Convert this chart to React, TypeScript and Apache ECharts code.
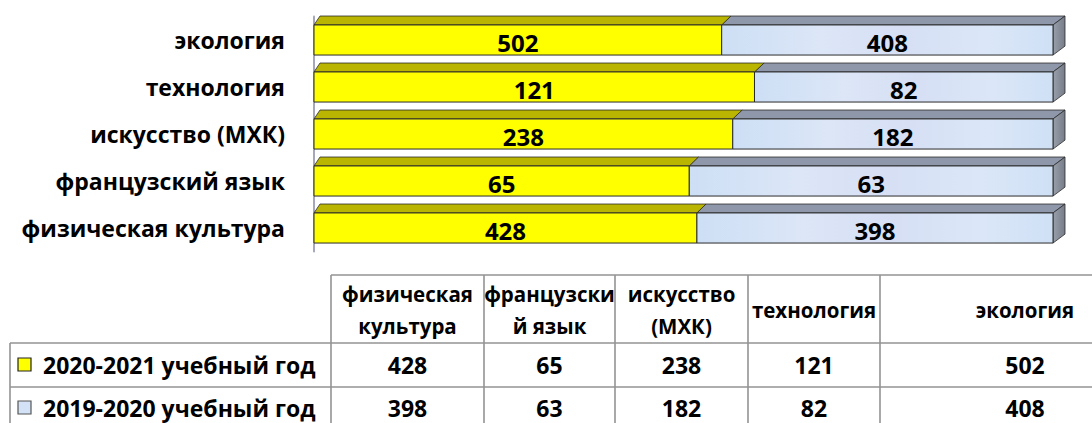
import React, { useEffect, useRef } from "react";
import * as echarts from "echarts";

const categories = ["физическая культура", "французский язык", "искусство (МХК)", "технология", "экология"];
const year2021 = [428, 65, 238, 121, 502];
const year2020 = [398, 63, 182, 82, 408];
const seriesNames = ["2020-2021 учебный год", "2019-2020 учебный год"];
const tableHeaders = ["физическая\nкультура", "французски\nй язык", "искусство\n(МХК)", "технология", "экология"];

const FONT = "'Open Sans', 'Noto Sans', sans-serif";
const YELLOW = "#ffff00";
const YELLOW_TOP = "#b9b500";
const BLUE_TOP = "#8f97aa";
const EDGE = "#2b2b2b";

function blueFill() {
  return new echarts.graphic.LinearGradient(0, 0, 1, 0, [
    { offset: 0, color: "#cddff5" },
    { offset: 0.3, color: "#dce6f7" },
    { offset: 0.55, color: "#d6dff4" },
    { offset: 0.8, color: "#dbe7f8" },
    { offset: 1, color: "#cfe0f5" },
  ]);
}

export default function App() {
  const ref = useRef<HTMLDivElement>(null);
  useEffect(() => {
    document.body.style.margin = "0";
    const chart = echarts.init(ref.current!, null, { renderer: "svg" });

    const renderItem = (params: any, api: any) => {
      const i = api.value(0);
      const a = api.value(1);
      const b = api.value(2);
      const total = a + b;
      const p0 = api.coord([0, i]);
      const p1 = api.coord([(a / total) * 100, i]);
      const p2 = api.coord([100, i]);
      const band = api.size([0, 1])[1];
      const h = band * 0.64;
      const cy = p0[1];
      const top = cy - h / 2;
      const bot = cy + h / 2;
      const dy = band * 0.19;
      const x0 = p0[0], x1 = p1[0], x2 = p2[0];
      const dx = (x: number) => 6 + (6 * (x - x0)) / (x2 - x0);
      const topFace = (xa: number, xb: number, fill: string) => ({
        type: "polygon",
        shape: {
          points: [
            [xa, top],
            [xb, top],
            [xb + dx(xb), top - dy],
            [xa + dx(xa), top - dy],
          ],
        },
        style: { fill, stroke: EDGE, lineWidth: 0.8 },
      });
      return {
        type: "group",
        children: [
          topFace(x1, x2, BLUE_TOP),
          topFace(x0, x1, YELLOW_TOP),
          {
            type: "polygon",
            shape: {
              points: [
                [x2, top],
                [x2 + dx(x2), top - dy],
                [x2 + dx(x2), bot - dy],
                [x2, bot],
              ],
            },
            style: {
              fill: new echarts.graphic.LinearGradient(0, 0, 1, 0, [
                { offset: 0, color: "#9aa0ab" },
                { offset: 1, color: "#767c88" },
              ]),
              stroke: EDGE,
              lineWidth: 0.8,
            },
          },
          {
            type: "rect",
            shape: { x: x0, y: top, width: x1 - x0, height: h },
            style: { fill: YELLOW, stroke: EDGE, lineWidth: 1 },
          },
          {
            type: "rect",
            shape: { x: x1, y: top, width: x2 - x1, height: h },
            style: { fill: blueFill(), stroke: EDGE, lineWidth: 1 },
          },
          {
            type: "text",
            x: (x0 + x1) / 2,
            y: cy + 2,
            style: {
              text: String(a),
              font: `bold 24px ${FONT}`,
              fill: "#000",
              align: "center",
              verticalAlign: "middle",
            },
          },
          {
            type: "text",
            x: (x1 + x2) / 2,
            y: cy + 2,
            style: {
              text: String(b),
              font: `bold 24px ${FONT}`,
              fill: "#000",
              align: "center",
              verticalAlign: "middle",
            },
          },
        ],
      };
    };

    // ---- data table (graphic) ----
    const colEdges = [331, 484, 615, 748, 880, 1170];
    const headTop = 275, headBot = 343, row1Bot = 387, row2Bot = 431;
    const lineStyle = { stroke: "#939393", lineWidth: 1.6 };
    const g: any[] = [];
    const hline = (xa: number, xb: number, y: number) =>
      g.push({ type: "line", shape: { x1: xa, y1: y, x2: xb, y2: y }, style: lineStyle });
    const vline = (x: number, ya: number, yb: number) =>
      g.push({ type: "line", shape: { x1: x, y1: ya, x2: x, y2: yb }, style: lineStyle });
    hline(colEdges[0], 1092, headTop);
    hline(10, 1092, headBot);
    hline(10, 1092, row1Bot);
    vline(10, headBot, row2Bot);
    colEdges.forEach((x) => vline(x, headTop, row2Bot));
    const textFont = `bold 23px ${FONT}`;
    const headFont = `bold 20.5px ${FONT}`;
    tableHeaders.forEach((t, k) => {
      g.push({
        type: "text",
        x: (colEdges[k] + colEdges[k + 1]) / 2,
        y: (headTop + headBot) / 2 + 1,
        style: {
          text: t,
          font: headFont,
          lineHeight: 32,
          fill: "#000",
          align: "center",
          verticalAlign: "middle",
        },
      });
    });
    const rows = [year2021, year2020];
    const rowCenters = [(headBot + row1Bot) / 2, (row1Bot + row2Bot) / 2 - 1];
    const markerFill = [YELLOW, "#d3e2f6"];
    const markerStroke = ["#222", "#555"];
    rows.forEach((vals, r) => {
      const cy = rowCenters[r];
      g.push({
        type: "rect",
        shape: { x: 18, y: cy - 7, width: 13, height: 13 },
        style: { fill: markerFill[r], stroke: markerStroke[r], lineWidth: 1.2 },
      });
      g.push({
        type: "text",
        x: 43,
        y: cy,
        style: { text: seriesNames[r], font: textFont, fill: "#000", align: "left", verticalAlign: "middle" },
      });
      vals.forEach((v, k) => {
        g.push({
          type: "text",
          x: (colEdges[k] + colEdges[k + 1]) / 2,
          y: cy,
          style: { text: String(v), font: textFont, fill: "#000", align: "center", verticalAlign: "middle" },
        });
      });
    });

    chart.setOption({
      animation: false,
      grid: { left: 314, right: 39, top: 16.5, height: 235, containLabel: false, outerBoundsMode: "none" },
      xAxis: { type: "value", min: 0, max: 100, show: false },
      yAxis: {
        type: "category",
        data: categories,
        offset: 3,
        axisLine: { show: true, lineStyle: { color: "#a6a6bd", width: 2 } },
        axisTick: { show: false },
        axisLabel: {
          margin: 26,
          color: "#000",
          fontFamily: FONT,
          fontWeight: "bold",
          fontSize: 23,
        },
        splitLine: { show: false },
      },
      series: [
        {
          type: "custom",
          name: seriesNames[0],
          renderItem,
          clip: false,
          encode: { y: 0 },
          data: categories.map((_, i) => [i, year2021[i], year2020[i]]),
        },
      ],
      graphic: { elements: g },
    });
    return () => chart.dispose();
  }, []);
  return <div ref={ref} style={{ width: 1092, height: 423 }} />;
}
